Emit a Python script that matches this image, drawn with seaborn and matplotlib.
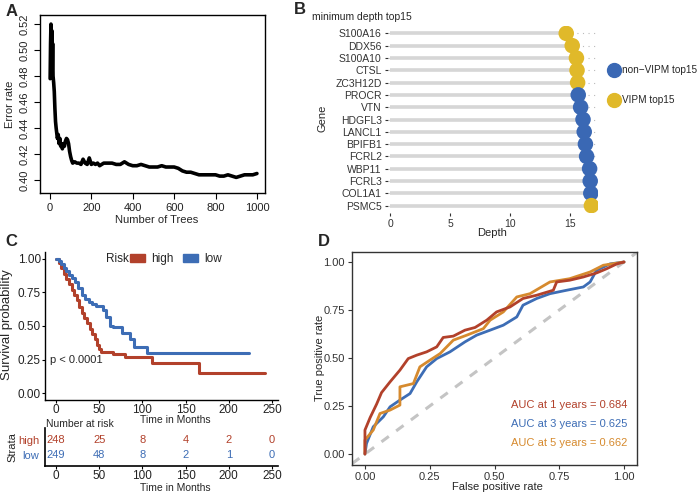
import numpy as np
import pandas as pd
import seaborn as sns
import matplotlib.pyplot as plt
from matplotlib.lines import Line2D
from matplotlib.patches import Patch

# ---- Panel A: error rate vs number of trees
trees = [1, 3, 5, 7, 9, 11, 13, 15, 18, 21, 24, 27, 30, 33, 36, 40, 44, 48, 52, 56,
         60, 65, 70, 75, 80, 85, 90, 95, 100, 105, 110, 120, 130, 140, 150, 160, 170,
         180, 190, 200, 210, 220, 230, 240, 250, 260, 280, 300, 320, 340, 360, 380,
         400, 420, 440, 460, 480, 500, 520, 540, 560, 580, 600, 620, 640, 660, 680,
         700, 720, 740, 760, 780, 800, 820, 840, 860, 880, 900, 920, 940, 960, 980, 1000]
err_rate = [0.478, 0.505, 0.520, 0.490, 0.515, 0.485, 0.505, 0.480, 0.475, 0.468,
            0.455, 0.445, 0.440, 0.436, 0.432, 0.435, 0.428, 0.432, 0.426, 0.428,
            0.424, 0.428, 0.426, 0.430, 0.432, 0.431, 0.428, 0.422, 0.418, 0.415,
            0.413, 0.414, 0.413, 0.413, 0.412, 0.416, 0.413, 0.412, 0.417, 0.412,
            0.413, 0.412, 0.413, 0.411, 0.412, 0.413, 0.413, 0.413, 0.412, 0.412,
            0.414, 0.412, 0.411, 0.411, 0.412, 0.411, 0.410, 0.410, 0.410, 0.411,
            0.410, 0.410, 0.410, 0.409, 0.407, 0.406, 0.406, 0.405, 0.404, 0.404,
            0.404, 0.404, 0.404, 0.403, 0.403, 0.404, 0.403, 0.402, 0.403, 0.404,
            0.404, 0.404, 0.405]

# ---- Panel B: minimum depth top15
genes = ["S100A16", "DDX56", "S100A10", "CTSL", "ZC3H12D", "PROCR", "VTN", "HDGFL3",
         "LANCL1", "BPIFB1", "FCRL2", "WBP11", "FCRL3", "COL1A1", "PSMC5"]
depth = [14.7, 15.2, 15.55, 15.6, 15.65, 15.7, 15.9, 16.1, 16.2, 16.3, 16.4, 16.65,
         16.7, 16.75, 16.8]
group = ["VIPM top15"] * 5 + ["non\u2212VIPM top15"] * 9 + ["VIPM top15"]
legend_groups = ["non\u2212VIPM top15", "VIPM top15"]

# ---- Panel C: Kaplan-Meier
high_t = [0, 3, 6, 9, 12, 15, 18, 21, 24, 27, 30, 33, 36, 39, 42, 45, 48, 50, 52, 60,
          66, 80, 111, 165, 242]
high_s = [1.0, 0.97, 0.93, 0.89, 0.85, 0.81, 0.77, 0.73, 0.69, 0.64, 0.60, 0.56, 0.52,
          0.48, 0.44, 0.40, 0.36, 0.33, 0.31, 0.31, 0.29, 0.27, 0.225, 0.15, 0.15]
low_t = [0, 3, 6, 9, 12, 15, 18, 22, 26, 30, 34, 38, 42, 46, 50, 54, 58, 62, 66, 72,
         76, 82, 86, 90, 105, 224]
low_s = [1.0, 0.98, 0.96, 0.93, 0.91, 0.88, 0.86, 0.83, 0.78, 0.73, 0.70, 0.68, 0.66,
         0.65, 0.645, 0.62, 0.57, 0.50, 0.49, 0.49, 0.45, 0.45, 0.40, 0.345, 0.30, 0.30]
risk_times = [0, 50, 100, 150, 200, 250]
risk_high = [248, 25, 8, 4, 2, 0]
risk_low = [249, 48, 8, 2, 1, 0]

# ---- Panel D: time-dependent ROC
fpr_1 = [0, 0, 0.02, 0.045, 0.064, 0.097, 0.135, 0.167, 0.2, 0.238, 0.277, 0.302, 0.341,
         0.386, 0.425, 0.47, 0.508, 0.56, 0.61, 0.663, 0.727, 0.74, 0.79, 0.843, 0.894,
         0.933, 0.972, 1.0]
tpr_1 = [0, 0.125, 0.19, 0.26, 0.32, 0.376, 0.437, 0.497, 0.515, 0.532, 0.558, 0.607,
         0.614, 0.645, 0.659, 0.697, 0.74, 0.766, 0.81, 0.827, 0.853, 0.896, 0.905,
         0.922, 0.943, 0.965, 0.99, 1.0]
fpr_3 = [0, 0.006, 0.032, 0.071, 0.097, 0.135, 0.174, 0.2, 0.238, 0.277, 0.328, 0.386,
         0.431, 0.483, 0.534, 0.586, 0.61, 0.663, 0.714, 0.779, 0.843, 0.869, 0.894,
         0.946, 1.0]
tpr_3 = [0, 0.055, 0.142, 0.194, 0.246, 0.281, 0.315, 0.376, 0.454, 0.497, 0.532, 0.584,
         0.619, 0.645, 0.671, 0.714, 0.775, 0.81, 0.835, 0.853, 0.87, 0.896, 0.957,
         0.99, 1.0]
fpr_5 = [0, 0, 0.032, 0.058, 0.097, 0.135, 0.135, 0.187, 0.212, 0.251, 0.29, 0.341,
         0.393, 0.457, 0.483, 0.534, 0.586, 0.637, 0.714, 0.79, 0.869, 0.92, 1.0]
tpr_5 = [0, 0.073, 0.125, 0.211, 0.229, 0.255, 0.35, 0.367, 0.454, 0.489, 0.523, 0.593,
         0.619, 0.653, 0.697, 0.74, 0.818, 0.835, 0.896, 0.913, 0.948, 0.983, 1.0]
auc_labels = ["AUC at 1 years = 0.684", "AUC at 3 years = 0.625", "AUC at 5 years = 0.662"]

RED = "#B2412B"
BLUE = "#3D6DB5"
ORANGE = "#D68A2E"
YELLOW = "#E0B92A"
DOTBLUE = "#3A68B4"

sns.set_theme(style="white")
plt.rcParams['font.family'] = ['Liberation Sans', 'DejaVu Sans']

W, H = 699, 493
fig = plt.figure(figsize=(W / 100, H / 100), dpi=100)


def box(x0, y0, x1, y1):
    return [x0 / W, 1 - y1 / H, (x1 - x0) / W, (y1 - y0) / H]


def ftext(x, y, s, **kw):
    kw.setdefault("ha", "center")
    kw.setdefault("va", "center")
    fig.text(x / W, 1 - y / H, s, **kw)


# ===== A
axA = fig.add_axes(box(40, 15, 265, 193))
sns.lineplot(x=trees, y=err_rate, ax=axA, color="black", lw=2.6, estimator=None)
axA.set_xlim(-48, 1039)
axA.set_ylim(0.390, 0.527)
axA.set_xticks([0, 200, 400, 600, 800, 1000])
yt = [0.40, 0.42, 0.44, 0.46, 0.48, 0.50, 0.52]
axA.set_yticks(yt)
axA.set_yticklabels([f"{v:.2f}" for v in yt], rotation=90, va="center")
for s in axA.spines.values():
    s.set_color("black")
    s.set_linewidth(1)
axA.tick_params(direction="out", length=4, width=0.8, color="black",
                labelsize=8, labelcolor="#222222", left=True, bottom=True)
axA.set_xlabel("")
axA.set_ylabel("")
ftext(157, 220, "Number of Trees", fontsize=8)
ftext(10, 104, "Error rate", fontsize=8, rotation=90)

# ===== B
axB = fig.add_axes(box(388, 26, 598, 213))
ypos = np.arange(len(genes))
axB.hlines(ypos, -0.17, 17.35, colors="#BBBBBB", linestyles=(0, (1, 4)), lw=0.8, zorder=1)
axB.hlines(ypos, 0, depth, colors="#D6D6D6", lw=2.6, zorder=2)
dfB = pd.DataFrame({"gene": genes, "depth": depth, "pos": ypos, "group": group})
sns.scatterplot(data=dfB, x="depth", y="pos", hue="group",
                palette={"VIPM top15": YELLOW, "non\u2212VIPM top15": DOTBLUE},
                s=125, linewidth=0, ax=axB, legend=False, zorder=3)
axB.set_xlim(-0.17, 17.35)
axB.set_ylim(14.6, -0.6)
axB.set_yticks(ypos)
axB.set_yticklabels(genes)
axB.set_xticks([0, 5, 10, 15])
for s in axB.spines.values():
    s.set_visible(False)
axB.tick_params(direction="out", length=2.5, width=0.8, color="#333333",
                labelsize=7.5, labelcolor="#333333", left=True, bottom=True, pad=2)
axB.set_xlabel("")
axB.set_ylabel("")
ftext(312, 17, "minimum depth top15", fontsize=7.5, ha="left")
ftext(323, 118, "Gene", fontsize=8, rotation=90)
ftext(492, 233, "Depth", fontsize=8)
# legend keys drawn at figure level so the long label fits inside the canvas
for yk, lab, c in zip([70, 100], legend_groups, [DOTBLUE, YELLOW]):
    fig.add_artist(Line2D([614 / W], [1 - yk / H], marker="o", ls="", markersize=10,
                          color=c, transform=fig.transFigure))
    ftext(622, yk, lab, fontsize=7.2, ha="left")

# ===== C
axC = fig.add_axes(box(45, 252, 278, 400))
sns.lineplot(x=high_t, y=high_s, ax=axC, color=RED, lw=2.2, drawstyle="steps-post",
             estimator=None)
sns.lineplot(x=low_t, y=low_s, ax=axC, color=BLUE, lw=2.2, drawstyle="steps-post",
             estimator=None)
axC.set_xlim(-12.7, 257)
axC.set_ylim(-0.05, 1.05)
axC.set_xticks(risk_times)
axC.set_yticks([0, 0.25, 0.5, 0.75, 1.0])
axC.set_yticklabels(["0.00", "0.25", "0.50", "0.75", "1.00"])
axC.spines["top"].set_visible(False)
axC.spines["right"].set_visible(False)
for k in ["left", "bottom"]:
    axC.spines[k].set_color("black")
    axC.spines[k].set_linewidth(1)
axC.tick_params(direction="out", length=2, width=0.8, color="black", labelsize=8.5,
                labelcolor="#222222", left=True, bottom=True, pad=1)
axC.set_xlabel("")
axC.set_ylabel("")
axC.text(-7, 0.25, "p < 0.0001", fontsize=8, va="center", ha="left")
ftext(106, 259, "Risk", fontsize=8.5, ha="left")
axC.legend([Patch(color=RED), Patch(color=BLUE)], ["high", "low"], ncol=2,
           loc="center left", bbox_to_anchor=(130 / W, 1 - 259 / H),
           bbox_transform=fig.transFigure, frameon=False, handlelength=1.3,
           handleheight=0.6, columnspacing=0.8, handletextpad=0.5, fontsize=8.5,
           borderaxespad=0, borderpad=0)
ftext(7, 325, "Survival probability", fontsize=9.5, rotation=90)
ftext(175, 420, "Time in Months", fontsize=7.5)
ftext(46, 424, "Number at risk", fontsize=7.5, ha="left")

# risk table
axT = fig.add_axes(box(45, 428, 278, 466))
for t, nh, nl in zip(risk_times, risk_high, risk_low):
    axT.text(t, 1, str(nh), color=RED, ha="center", va="center", fontsize=8)
    axT.text(t, 0, str(nl), color=BLUE, ha="center", va="center", fontsize=8)
axT.set_xlim(-12.7, 257)
axT.set_ylim(-0.733, 1.8)
axT.set_xticks(risk_times)
axT.set_yticks([1, 0])
axT.set_yticklabels(["high", "low"])
for lab, c in zip(axT.get_yticklabels(), [RED, BLUE]):
    lab.set_color(c)
axT.spines["top"].set_visible(False)
axT.spines["right"].set_visible(False)
for k in ["left", "bottom"]:
    axT.spines[k].set_color("black")
    axT.spines[k].set_linewidth(1.2)
axT.tick_params(axis="x", direction="out", length=2, width=0.8, color="black",
                labelsize=8.5, labelcolor="#222222", bottom=True, pad=1)
axT.tick_params(axis="y", length=0, labelsize=8, pad=4)
ftext(12, 447, "Strata", fontsize=8, rotation=90)
ftext(175, 488, "Time in Months", fontsize=7.5)

# ===== D
axD = fig.add_axes(box(352, 252, 637, 465))
axD.axline((0, 0), (1, 1), color="#C4C4C4", lw=2.2, ls=(0, (3, 3)), zorder=1)
sns.lineplot(x=fpr_3, y=tpr_3, ax=axD, color=BLUE, lw=2.0, estimator=None, sort=False)
sns.lineplot(x=fpr_5, y=tpr_5, ax=axD, color=ORANGE, lw=2.0, estimator=None, sort=False)
sns.lineplot(x=fpr_1, y=tpr_1, ax=axD, color=RED, lw=2.0, estimator=None, sort=False)
axD.set_xlim(-0.05, 1.05)
axD.set_ylim(-0.057, 1.052)
ticksD = [0, 0.25, 0.5, 0.75, 1.0]
axD.set_xticks(ticksD)
axD.set_yticks(ticksD)
axD.set_xticklabels([f"{v:.2f}" for v in ticksD])
axD.set_yticklabels([f"{v:.2f}" for v in ticksD])
for s in axD.spines.values():
    s.set_color("#333333")
    s.set_linewidth(1)
axD.tick_params(direction="out", length=3, width=0.8, color="#333333", labelsize=8,
                labelcolor="#333333", left=True, bottom=True, pad=2)
axD.set_xlabel("")
axD.set_ylabel("")
for lab, yv, c in zip(auc_labels, [0.255, 0.156, 0.057], [RED, BLUE, ORANGE]):
    axD.text(1.012, yv, lab, color=c, ha="right", va="center", fontsize=8)
ftext(320, 358, "True positive rate", fontsize=8, rotation=90)
ftext(497, 487, "False positive rate", fontsize=8)

# panel letters
for x, y, l in [(12, 11, "A"), (300, 10, "B"), (11, 241, "C"), (324, 241, "D")]:
    ftext(x, y, l, fontsize=12, fontweight="bold")

fig.savefig("out.png", dpi=100)
